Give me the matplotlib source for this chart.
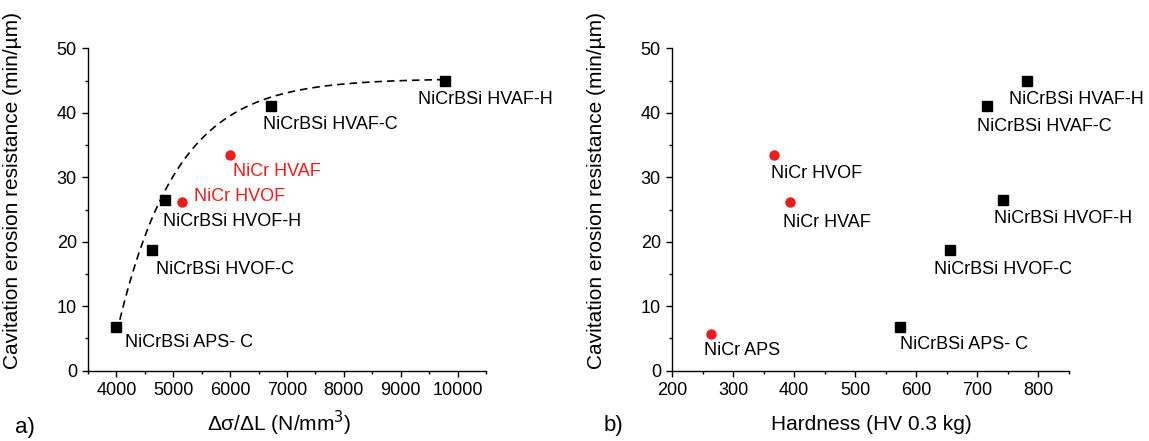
import numpy as np
import matplotlib
matplotlib.use("Agg")
import matplotlib.pyplot as plt
from matplotlib.ticker import MultipleLocator

plt.rcParams['font.family'] = ['Liberation Sans', 'DejaVu Sans']
plt.rcParams['font.size'] = 13

# ---- data ----
# black squares: NiCrBSi coatings
nicrbsi_labels = ["NiCrBSi APS- C", "NiCrBSi HVOF-C", "NiCrBSi HVOF-H", "NiCrBSi HVAF-C", "NiCrBSi HVAF-H"]
nicrbsi_ratio = [4000, 4620, 4850, 6720, 9780]       # Δσ/ΔL (N/mm3)
nicrbsi_hard = [574, 655, 742, 715, 781]             # HV 0.3
nicrbsi_res = [6.7, 18.7, 26.5, 41.0, 45.0]          # min/µm

# red circles: NiCr coatings
nicr_labels_a = ["NiCr HVOF", "NiCr HVAF"]
nicr_ratio = [5160, 5990]
nicr_res_a = [26.1, 33.4]

nicr_labels_b = ["NiCr APS", "NiCr HVOF", "NiCr HVAF"]
nicr_hard = [264, 367, 394]
nicr_res_b = [5.7, 33.4, 26.1]

# exponential fit y = a - b*exp(-c*(x - x0)) drawn as dashed trend line
fit_a, fit_b, fit_c, fit_x0 = 45.3, 37.4, 9.65e-4, 4060
fit_range = (4060, 9720)

# label offsets (pixels) for text placement
offs_a_black = [(9, -15), (4, -19), (-2, -22), (-8, -18), (-27, -19)]
offs_a_red = [(12, 6), (3, -16)]
offs_b_black = [(0, -17), (-16, -19), (-9, -19), (-10, -20), (-18, -19)]
offs_b_red = [(-7, -17), (-3, -18), (-7, -20)]

W, H = 1149, 441
fig = plt.figure(figsize=(W / 100, H / 100), dpi=100)
ax_top, ax_bot = 48.3, 370.7
axA = fig.add_axes([88 / W, 1 - ax_bot / H, (486 - 88) / W, (ax_bot - ax_top) / H])
axB = fig.add_axes([672 / W, 1 - ax_bot / H, (1069 - 672) / W, (ax_bot - ax_top) / H])

red = '#ee1c1c'

def style(ax):
    for s in ['top', 'right']:
        ax.spines[s].set_visible(False)
    for s in ['left', 'bottom']:
        ax.spines[s].set_linewidth(1.0)
    ax.tick_params(which='major', direction='out', length=4, width=1, labelsize=13, pad=4)
    ax.tick_params(which='minor', direction='out', length=2.5, width=1)
    ax.set_ylim(0, 50)
    ax.yaxis.set_major_locator(MultipleLocator(10))
    ax.yaxis.set_minor_locator(MultipleLocator(5))
    ax.set_ylabel("Cavitation erosion resistance (min/\u00b5m)", fontsize=15)
    ax.yaxis.set_label_coords(-66 / (486 - 88), 0.558)

# ---- panel a ----
style(axA)
axA.set_xlim(3500, 10500)
axA.xaxis.set_major_locator(MultipleLocator(1000))
axA.xaxis.set_minor_locator(MultipleLocator(500))
xf = np.linspace(fit_range[0], fit_range[1], 300)
yf = fit_a - fit_b * np.exp(-fit_c * (xf - fit_x0))
axA.plot(xf, yf, ls=(0, (4.5, 3)), color='black', lw=1.2)
axA.plot(nicrbsi_ratio, nicrbsi_res, 's', color='black', ms=7.5, zorder=3)
axA.plot(nicr_ratio, nicr_res_a, 'o', color=red, ms=7.5, mec='none', zorder=3)
for lab, x, y, o in zip(nicrbsi_labels, nicrbsi_ratio, nicrbsi_res, offs_a_black):
    axA.annotate(lab, (x, y), xytext=o, textcoords='offset pixels', ha='left', va='center', fontsize=13)
for lab, x, y, o in zip(nicr_labels_a, nicr_ratio, nicr_res_a, offs_a_red):
    axA.annotate(lab, (x, y), xytext=o, textcoords='offset pixels', ha='left', va='center', fontsize=13, color=red)

# ---- panel b ----
style(axB)
axB.set_xlim(200, 850)
axB.xaxis.set_major_locator(MultipleLocator(100))
axB.xaxis.set_minor_locator(MultipleLocator(50))
axB.plot(nicrbsi_hard, nicrbsi_res, 's', color='black', ms=7.5, zorder=3)
axB.plot(nicr_hard, nicr_res_b, 'o', color=red, ms=7.5, mec='none', zorder=3)
for lab, x, y, o in zip(nicrbsi_labels, nicrbsi_hard, nicrbsi_res, offs_b_black):
    axB.annotate(lab, (x, y), xytext=o, textcoords='offset pixels', ha='left', va='center', fontsize=13)
for lab, x, y, o in zip(nicr_labels_b, nicr_hard, nicr_res_b, offs_b_red):
    axB.annotate(lab, (x, y), xytext=o, textcoords='offset pixels', ha='left', va='center', fontsize=13)

# x axis labels and panel letters
fig.text(279 / W, 1 - 431 / H, "\u0394\u03c3/\u0394L (N/mm$^3$)", fontsize=15, ha='center', va='baseline')
fig.text(871 / W, 1 - 430 / H, "Hardness (HV 0.3 kg)", fontsize=15, ha='center', va='baseline')
fig.text(15 / W, 1 - 433 / H, "a)", fontsize=16, ha='left', va='baseline')
fig.text(604 / W, 1 - 431 / H, "b)", fontsize=16, ha='left', va='baseline')

fig.savefig("out.png", dpi=100)
